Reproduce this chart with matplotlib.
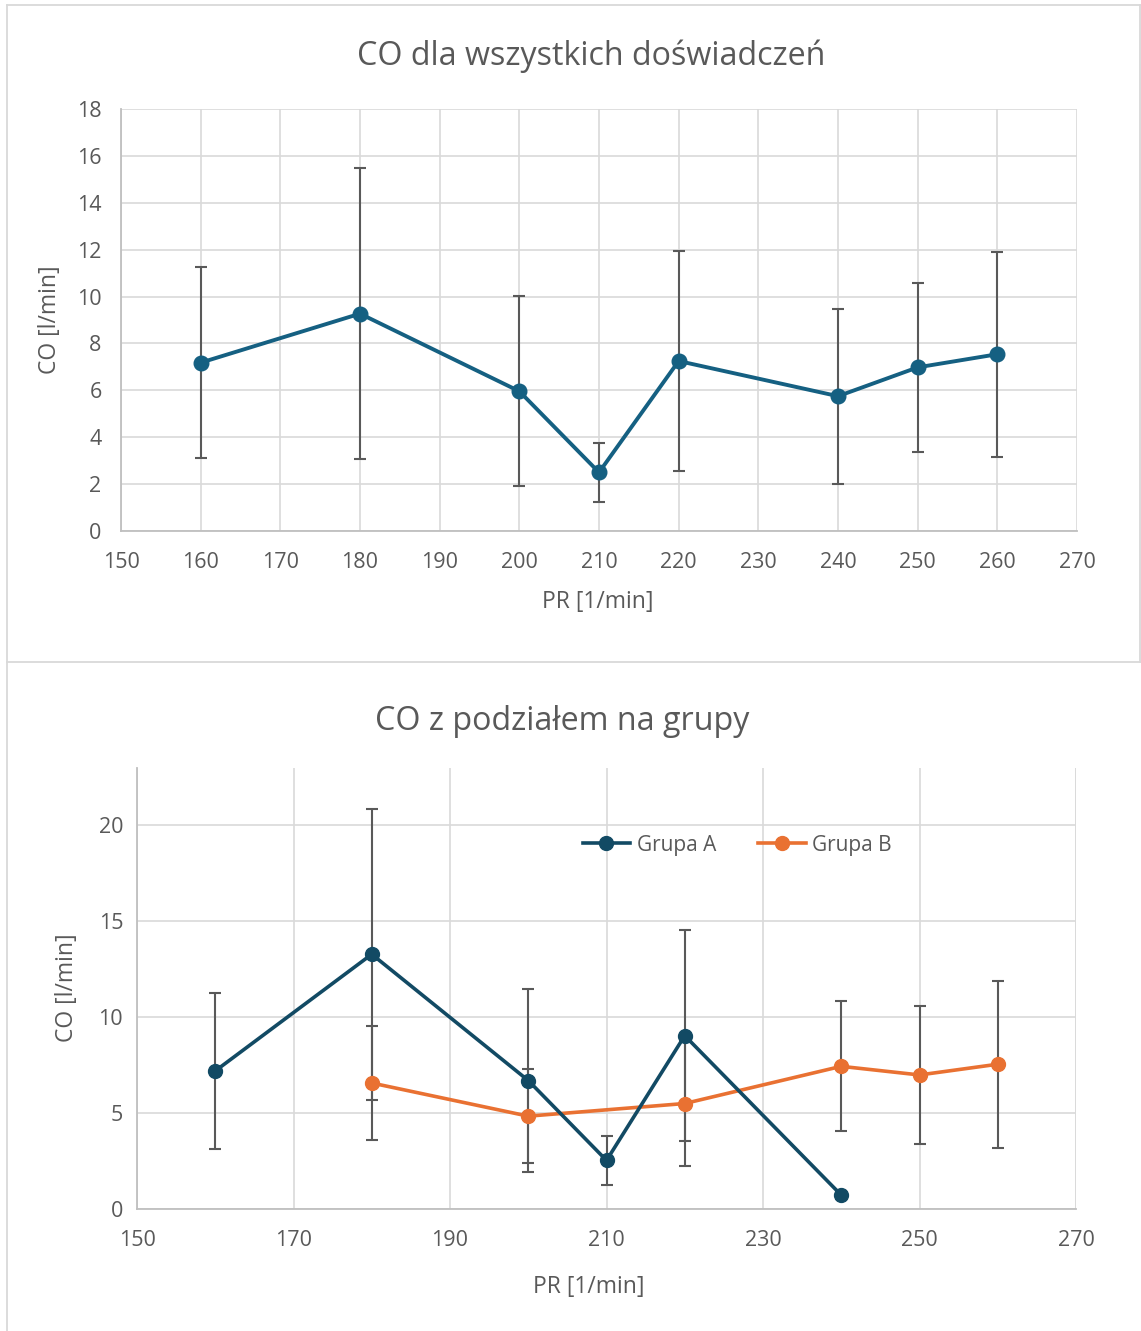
import matplotlib
matplotlib.use("Agg")
import matplotlib.pyplot as plt
from matplotlib.lines import Line2D

plt.rcParams['font.family'] = ['Open Sans', 'DejaVu Sans']

# --- data ---
pr_all = [160, 180, 200, 210, 220, 240, 250, 260]
co_all = [7.18, 9.27, 5.96, 2.50, 7.25, 5.75, 6.98, 7.54]
err_all = [4.06, 6.22, 4.06, 1.26, 4.70, 3.73, 3.60, 4.38]

pr_a = [160, 180, 200, 210, 220, 240]
co_a = [7.19, 13.28, 6.69, 2.52, 9.03, 0.71]
err_a = [4.06, 7.60, 4.80, 1.26, 5.50, 0.20]

pr_b = [180, 200, 220, 240, 250, 260]
co_b = [6.56, 4.83, 5.49, 7.43, 6.98, 7.54]
err_b = [3.00, 2.45, 3.25, 3.40, 3.60, 4.36]

top_xticks = list(range(150, 271, 10))
top_yticks = list(range(0, 19, 2))
bot_xticks = list(range(150, 271, 20))
bot_yticks = [0, 5, 10, 15, 20]

W, H = 1141, 1331
TEXT = '#595959'
GRID = '#d9d9d9'
SPINE = '#bfbfbf'
ERR = '#595959'
C_ALL = '#156082'
C_A = '#124a64'
C_B = '#e97132'
TICK_FS = 15.5
LABEL_FS = 16.5
TITLE_FS = 23.2

fig = plt.figure(figsize=(W / 100, H / 100), dpi=100)


def fx(px):
    return px / W


def fy(py):
    return 1 - py / H


# panel borders
border = dict(color=GRID, lw=1.3, transform=fig.transFigure)
fig.add_artist(Line2D([fx(7), fx(1140)], [fy(5), fy(5)], **border))
fig.add_artist(Line2D([fx(7), fx(7)], [fy(5), fy(1331)], **border))
fig.add_artist(Line2D([fx(1140), fx(1140)], [fy(5), fy(662)], **border))
fig.add_artist(Line2D([fx(7), fx(1141)], [fy(662), fy(662)], **border))


def style_axes(ax):
    ax.grid(True, color=GRID, lw=1.2)
    ax.set_axisbelow(True)
    for side in ['top', 'right']:
        ax.spines[side].set_visible(False)
    for side in ['left', 'bottom']:
        ax.spines[side].set_color(SPINE)
        ax.spines[side].set_linewidth(1.3)
    ax.tick_params(length=0, labelsize=TICK_FS, colors=TEXT)


# --- top chart ---
ax1 = fig.add_axes([fx(121), fy(531), fx(1077 - 121), (531 - 109) / H])
style_axes(ax1)
ax1.errorbar(pr_all, co_all, yerr=err_all, fmt='none', ecolor=ERR,
             elinewidth=1.5, capsize=4.5, capthick=1.5, zorder=2)
ax1.plot(pr_all, co_all, color=C_ALL, lw=2.8, marker='o', ms=10.5, zorder=3)
ax1.set_xlim(150, 270)
ax1.set_ylim(0, 18)
ax1.set_xticks(top_xticks)
ax1.set_yticks(top_yticks)
ax1.tick_params(axis='y', pad=14)
ax1.tick_params(axis='x', pad=15)

fig.text(fx(591), fy(56), 'CO dla wszystkich doświadczeń', ha='center',
         va='center', fontsize=TITLE_FS, color=TEXT)
fig.text(fx(598), fy(602), 'PR [1/min]', ha='center', va='center',
         fontsize=LABEL_FS, color=TEXT)
fig.text(fx(50), fy(320), 'CO [l/min]', ha='center', va='center',
         rotation=90, fontsize=LABEL_FS, color=TEXT)

# --- bottom chart ---
ax2 = fig.add_axes([fx(137), fy(1208.7), fx(1076 - 137), (1208.7 - 768) / H])
style_axes(ax2)
ax2.errorbar(pr_a, co_a, yerr=err_a, fmt='none', ecolor=ERR,
             elinewidth=1.5, capsize=4.5, capthick=1.5, zorder=2)
ax2.errorbar(pr_b, co_b, yerr=err_b, fmt='none', ecolor=ERR,
             elinewidth=1.5, capsize=4.5, capthick=1.5, zorder=2)
ax2.plot(pr_b, co_b, color=C_B, lw=2.6, marker='o', ms=10, zorder=3,
         label='Grupa B')
ax2.plot(pr_a, co_a, color=C_A, lw=2.6, marker='o', ms=10, zorder=4,
         label='Grupa A')
ax2.set_xlim(150, 270)
ax2.set_ylim(0, 23)
ax2.set_xticks(bot_xticks)
ax2.set_yticks(bot_yticks)
ax2.tick_params(axis='y', pad=10)
ax2.tick_params(axis='x', pad=15)
# right edge line at 270 is just a gridline in the reference
ax2.axvline(270, color=GRID, lw=1.2, zorder=0)

handles, labels = ax2.get_legend_handles_labels()
fig.legend(handles[::-1], labels[::-1], loc='center',
           bbox_to_anchor=(fx(737), fy(845)), ncol=2, frameon=False,
           fontsize=15, labelcolor=TEXT, handlelength=2.3,
           handletextpad=0.3, columnspacing=2.0)

fig.text(fx(562), fy(722), 'CO z podziałem na grupy', ha='center',
         va='center', fontsize=TITLE_FS, color=TEXT)
fig.text(fx(589), fy(1287), 'PR [1/min]', ha='center', va='center',
         fontsize=LABEL_FS, color=TEXT)
fig.text(fx(67), fy(988), 'CO [l/min]', ha='center', va='center',
         rotation=90, fontsize=LABEL_FS, color=TEXT)

fig.savefig('out.png', dpi=100, facecolor='white')
